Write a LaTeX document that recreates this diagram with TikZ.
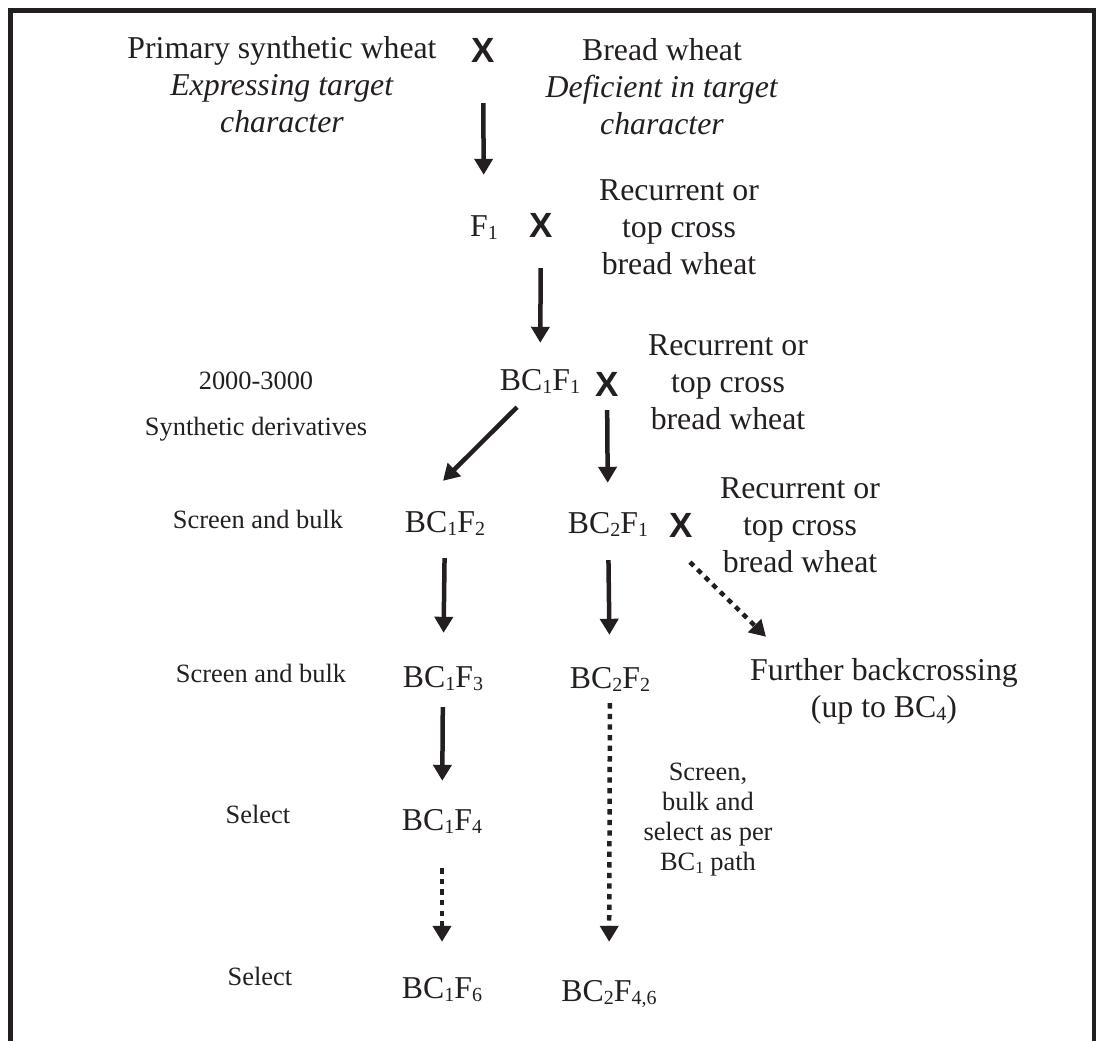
\documentclass[tikz,border=0pt]{standalone}
\usepackage{fontspec}
\setmainfont{Liberation Serif}
\newfontfamily\crossfont{Liberation Sans}
\usetikzlibrary{calc}
\usetikzlibrary{arrows.meta}
\definecolor{ink}{RGB}{35,31,32}
\newcommand{\lowidx}[2][20]{\raisebox{-3pt}{\fontsize{#1}{#1}\selectfont #2}}

\begin{document}
\begin{tikzpicture}[x=1pt, y=-1pt, ink,
    big/.style={font=\fontsize{31.8}{37}\selectfont, inner sep=0pt, align=center, anchor=base},
    small/.style={font=\fontsize{26.4}{30}\selectfont, inner sep=0pt, align=center, anchor=base},
    gen/.style={big, text height=22pt, text depth=6pt},
    cross/.style={font=\fontsize{35}{35}\crossfont\bfseries, inner sep=0pt, anchor=base, text height=25pt, text depth=0pt},
    arr/.style={line width=4.5pt, -{Triangle[length=16pt, width=18pt]}},
    dotarr/.style={arr, dash pattern=on 5.3pt off 5.3pt}]
    \useasboundingbox (0,0) rectangle (1104,1041);
    \draw[line width=4.3pt] (10.5,1041) -- (10.5,10.5) -- (1094,10.5) -- (1094,1041);

    % parents (multi-line nodes sit on their last baseline)
    \node[big] (prim) at (282,132) {Primary synthetic wheat\\\textit{Expressing target}\\\textit{character}};
    \node[cross] (x1) at (483,63) {X};
    \node[big] (bread) at (662,135) {Bread wheat\\\textit{Deficient in target}\\\textit{character}};

    % crosses
    \node[gen] (f1) at (484,236) {F\lowidx{1}};
    \node[cross] (x2) at (541,237) {X};
    \node[big] (rec1) at (679,274) {Recurrent or\\top cross\\bread wheat};
    \node[gen] (bc11) at (540,390) {BC\lowidx{1}F\lowidx{1}};
    \node[cross] (x3) at (607,396) {X};
    \node[big] (rec2) at (728,429) {Recurrent or\\top cross\\bread wheat};
    \node[gen] (bc21) at (608,533) {BC\lowidx{2}F\lowidx{1}};
    \node[cross] (x4) at (681,537) {X};
    \node[big] (rec3) at (800,572) {Recurrent or\\top cross\\bread wheat};
    \node[big] (further) at (884,717) {Further backcrossing\\(up to BC\lowidx{4})};

    % left column labels
    \node[small] (size) at (256,389) {2000-3000};
    \node[small] (deriv) at (256,435) {Synthetic derivatives};
    \node[small] (bulka) at (258,528) {Screen and bulk};
    \node[small] (bulkb) at (261,682) {Screen and bulk};
    \node[small] (sela) at (258,823) {Select};
    \node[small] (selb) at (260,985) {Select};

    % generations
    \node[gen] (bc12) at (445,532) {BC\lowidx{1}F\lowidx{2}};
    \node[gen] (bc13) at (443,687) {BC\lowidx{1}F\lowidx{3}};
    \node[gen] (bc14) at (442,830) {BC\lowidx{1}F\lowidx{4}};
    \node[gen] (bc16) at (442,998) {BC\lowidx{1}F\lowidx{6}};
    \node[gen] (bc22) at (610,688) {BC\lowidx{2}F\lowidx{2}};
    \node[gen] (bc246) at (609,1001) {BC\lowidx{2}F\lowidx{4,6}};
    \node[small] (note) at (708,870) {Screen,\\bulk and\\select as per\\BC\lowidx[17]{1} path};

    % arrows
    \draw[arr, shorten <=40pt, shorten >=39pt] (x1) -- (f1);
    \draw[arr, shorten <=31pt, shorten >=25pt] (x2) -- (bc11);
    \draw[arr] ($(bc11.south)+(-23,11)$) -- ($(bc12.north)+(-2,-29)$);
    \draw[arr, shorten <=14pt, shorten >=28pt] (x3) -- (bc21);
    \draw[arr, shorten <=20pt, shorten >=32pt] (bc12) -- (bc13);
    \draw[arr, shorten <=21pt, shorten >=31pt] (bc21) -- (bc22);
    \draw[dotarr] ($(x4.south)+(9,25)$) -- ($(further.north)+(-118,-21)$);
    \draw[arr, shorten <=14pt, shorten >=27pt] (bc13) -- (bc14);
    \draw[dotarr, shorten <=32pt, shorten >=34pt] (bc14) -- (bc16);
    \draw[dotarr, shorten <=9pt, shorten >=37pt] (bc22) -- (bc246);
\end{tikzpicture}
\end{document}
